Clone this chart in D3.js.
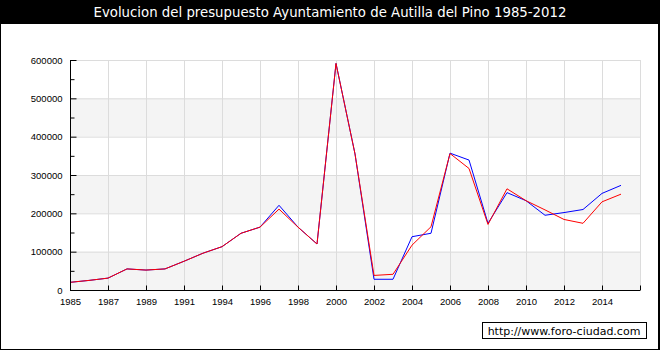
<!DOCTYPE html>
<html lang="es">
<head>
    <meta charset="UTF-8">
    <title>Presupuesto Autilla del Pino</title>
    <style>
      body { margin: 0; background: #fff; }
      svg { display: block; font-family: "DejaVu Sans", Verdana, sans-serif; }
    </style>
</head>
<body>
  <svg width="660" height="350"></svg>
  <script src="https://d3js.org/d3.v7.min.js"></script>
  <script>
    const title = 'Evolucion del presupuesto Ayuntamiento de Autilla del Pino 1985-2012';
    const credit = 'http://www.foro-ciudad.com';

    // years on the axis (1993 is missing in the source)
    const years = ['1985', '1986', '1987', '1988', '1989', '1990', '1991', '1992',
      '1994', '1995', '1996', '1997', '1998', '1999', '2000', '2001', '2002', '2003',
      '2004', '2005', '2006', '2007', '2008', '2009', '2010', '2011', '2012', '2013',
      '2014', '2015'];

    // blue line, drawn underneath
    const blueValues = [20000, 25000, 31000, 55000, 52000, 55000, 75000, 96000,
      113000, 148000, 164000, 221000, 164000, 120000, 591000, 355000, 28000, 28000,
      139000, 148000, 357000, 339000, 174000, 254000, 233000, 195000, 202000, 210000,
      252000, 273000];

    // red line, drawn on top
    const redValues = [20000, 25000, 31000, 55000, 52000, 55000, 75000, 96000,
      113000, 148000, 164000, 211000, 164000, 120000, 591000, 355000, 38000, 41000,
      117000, 165000, 356000, 317000, 171000, 264000, 233000, 209000, 184000, 174000,
      230000, 250000];

    const yTicks = [0, 100000, 200000, 300000, 400000, 500000, 600000];

    const svg = d3.select('svg');
    const W = 660, H = 350;
    const plot = {left: 70, right: 640, top: 60, bottom: 290};

    // frame + title bar
    svg.append('rect').attr('width', W).attr('height', H).attr('fill', '#000');
    svg.append('rect').attr('x', 1).attr('y', 24).attr('width', W - 3).attr('height', H - 25)
      .attr('fill', '#fff');
    svg.append('text')
      .attr('x', W / 2).attr('y', 17)
      .attr('text-anchor', 'middle')
      .attr('fill', '#fff')
      .style('font-size', '13.3px')
      .text(title);

    // one step past the last year so the axis runs on to the right edge
    const x = d3.scaleLinear().domain([0, years.length]).range([plot.left, plot.right]);
    const y = d3.scaleLinear().domain([0, 600000]).range([plot.bottom, plot.top]);

    const g = svg.append('g');

    // alternating bands
    g.selectAll('rect.band')
      .data(d3.range(0, yTicks.length - 1).filter(i => i % 2 === 0))
      .enter().append('rect')
      .attr('class', 'band')
      .attr('x', plot.left)
      .attr('width', plot.right - plot.left)
      .attr('y', i => y(yTicks[i + 1]))
      .attr('height', i => y(yTicks[i]) - y(yTicks[i + 1]))
      .attr('fill', '#f4f4f4');

    const xTickIdx = d3.range(0, years.length + 1, 2);

    // grid
    g.selectAll('line.hgrid').data(yTicks.slice(1)).enter().append('line')
      .attr('x1', plot.left).attr('x2', plot.right)
      .attr('y1', d => y(d) + 0.5).attr('y2', d => y(d) + 0.5)
      .attr('stroke', '#dcdcdc');
    g.selectAll('line.vgrid').data(xTickIdx.slice(1)).enter().append('line')
      .attr('x1', d => Math.round(x(d)) + 0.5).attr('x2', d => Math.round(x(d)) + 0.5)
      .attr('y1', plot.top).attr('y2', plot.bottom)
      .attr('stroke', '#dcdcdc');

    // lines
    const line = d3.line().x((d, i) => x(i)).y(d => y(d));
    g.append('path').datum(blueValues)
      .attr('fill', 'none').attr('stroke', '#0000ff').attr('stroke-width', 1)
      .attr('d', line);
    g.append('path').datum(redValues)
      .attr('fill', 'none').attr('stroke', '#ff0000').attr('stroke-width', 1)
      .attr('d', line);

    // y axis, ticks pointing inwards
    const yAxis = d3.axisLeft(y)
      .tickValues(d3.range(0, 600001, 50000))
      .tickSize(-6)
      .tickPadding(8)
      .tickFormat(d => yTicks.includes(d) ? d : '');
    const ya = svg.append('g')
      .attr('transform', `translate(${plot.left + 0.5},0)`)
      .call(yAxis);
    ya.selectAll('.tick line').attr('x2', d => yTicks.includes(d) ? 6 : 4);
    ya.selectAll('text').style('font-size', '9.5px').attr('fill', '#000');

    // x axis, ticks pointing up
    const xAxis = d3.axisBottom(x)
      .tickValues(xTickIdx)
      .tickSize(-5)
      .tickPadding(6)
      .tickFormat(i => years[i] || '');
    const xa = svg.append('g')
      .attr('transform', `translate(0,${plot.bottom + 0.5})`)
      .call(xAxis);
    xa.selectAll('text').style('font-size', '9.5px').attr('fill', '#000').attr('dy', '0.9em');

    svg.selectAll('.domain').attr('stroke', '#000');
    ya.select('.domain').attr('d', `M0,${plot.top}V${plot.bottom}`);
    xa.select('.domain').attr('d', `M${plot.left},0H${plot.right}`);

    // credit box
    svg.append('rect')
      .attr('x', 482.5).attr('y', 322.5).attr('width', 164).attr('height', 16)
      .attr('fill', '#fff').attr('stroke', '#000');
    svg.append('text')
      .attr('x', 564).attr('y', 334.5)
      .attr('text-anchor', 'middle')
      .style('font-size', '11px')
      .text(credit);
  </script>
</body>
</html>
